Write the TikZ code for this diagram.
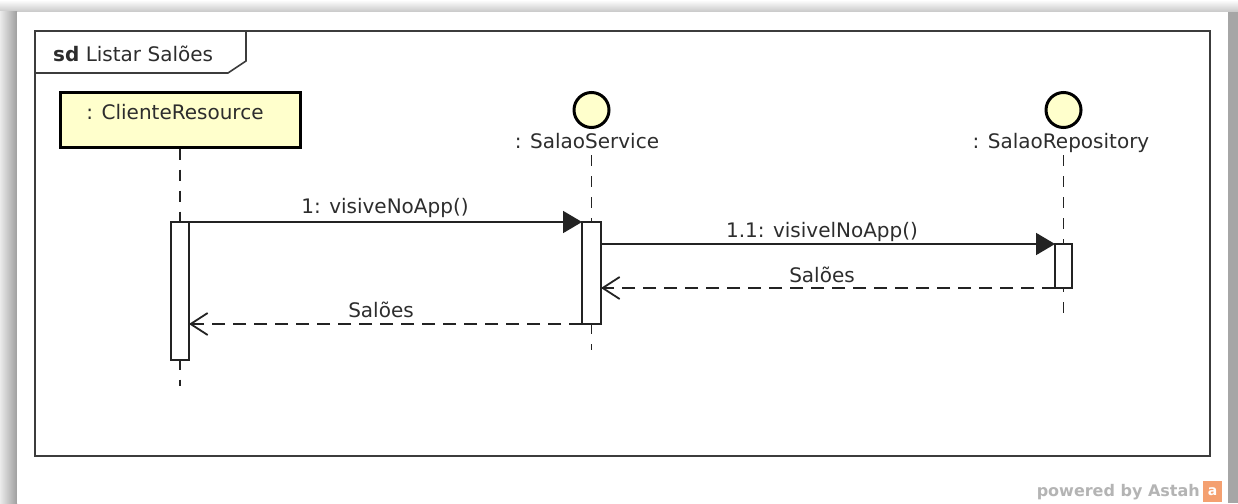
\documentclass[tikz,border=0pt]{standalone}
\usepackage{fontspec}
\setmainfont{DejaVu Sans}
\usetikzlibrary{arrows.meta}
\definecolor{lifey}{RGB}{255,255,204}
\definecolor{ink}{RGB}{35,35,35}
\definecolor{txt}{RGB}{45,45,45}
\definecolor{framec}{RGB}{60,60,60}
\definecolor{pwgray}{RGB}{180,180,180}
\definecolor{astahor}{RGB}{244,160,112}
\tikzset{
  lbl/.style={font=\fontsize{20}{24}\selectfont, text=txt, inner sep=0pt, anchor=base},
  act/.style={draw=ink, fill=white, line width=1.5pt, minimum width=18pt, inner sep=0pt, outer sep=0pt, anchor=north},
  lifeline/.style={draw=ink, line width=1.8pt, dash pattern=on 11pt off 10pt},
  callmsg/.style={draw=ink, line width=1.8pt, -{Triangle[length=19pt,width=22pt]}},
  retmsg/.style={draw=ink, line width=1.8pt, dash pattern=on 13pt off 8pt, -{Straight Barb[length=17pt,width=22pt]}},
  headcircle/.style={circle, draw=black, fill=lifey, line width=3pt, minimum size=35pt, inner sep=0pt},
  headbox/.style={rectangle, draw=black, fill=lifey, line width=3pt, minimum width=240pt, minimum height=55pt, inner sep=0pt},
}
\begin{document}
\begin{tikzpicture}[x=1pt,y=-1pt]
\useasboundingbox (0,0) rectangle (1238,503);
% page and shadow
\fill[white] (0,0) rectangle (1238,503);
\shade[top color=white, bottom color=black!22] (0,0) rectangle (1238,12);
\shade[left color=black!8, right color=black!38] (0,12) rectangle (17,503);
\fill[black!35] (1228,12) rectangle (1238,503);
\fill[white] (17,12) rectangle (1228,503);
% frame
\draw[framec, line width=2pt] (35,31) rectangle (1210,456);
\draw[framec, line width=1.6pt] (246,31) -- (246,61) -- (228,73) -- (35,73);
\node[lbl, anchor=base west] (title) at (53,61) {\textbf{sd} Listar Salões};
% lifeline ends
\coordinate (e1) at (180,386);
\coordinate (s2) at (591.5,155);
\coordinate (e2) at (591.5,350);
\coordinate (s3) at (1063.5,155);
\coordinate (e3) at (1063.5,316);
% heads
\node[headbox] (c1) at (180,119.5) {};
\node[lbl] (c1t) at (175,119) {: ClienteResource};
\node[headcircle] (c2) at (591.5,110) {};
\node[lbl] (c2t) at (587,148) {: SalaoService};
\node[headcircle] (c3) at (1063.5,110) {};
\node[lbl] (c3t) at (1061,148) {: SalaoRepository};
% lifelines
\draw[lifeline] (c1.south) -- (e1);
\draw[lifeline] (s2) -- (e2);
\draw[lifeline] (s3) -- (e3);
% activations
\node[act, minimum height=138pt] (a1) at (180,222) {};
\node[act, minimum height=102pt, minimum width=19pt] (a2) at (591.5,222) {};
\node[act, minimum height=44pt, minimum width=17pt] (a3) at (1063.5,244) {};
% messages
\draw[callmsg] (a1.north east) -- (a2.north west);
\draw[callmsg] (a2.east |- a3.north west) -- (a3.north west);
\draw[retmsg] (a3.south west) -- (a2.east |- a3.south west);
\draw[retmsg] (a2.south west) -- (a1.east |- a2.south west);
\node[lbl] (m1l) at (385,213) {1: visiveNoApp()};
\node[lbl] (m2l) at (822,237) {1.1: visivelNoApp()};
\node[lbl] (r1l) at (822,282) {Salões};
\node[lbl] (r2l) at (381,317) {Salões};
% powered by
\node[font=\bfseries\fontsize{16}{19}\selectfont, text=pwgray, inner sep=0pt, anchor=base east] (pw) at (1200,496) {powered by Astah};
\node[fill=astahor, minimum width=19pt, minimum height=21pt, inner sep=0pt, text=white, font=\bfseries\fontsize{14}{14}\selectfont] (logo) at (1212.5,491.5) {a};
\end{tikzpicture}
\end{document}
